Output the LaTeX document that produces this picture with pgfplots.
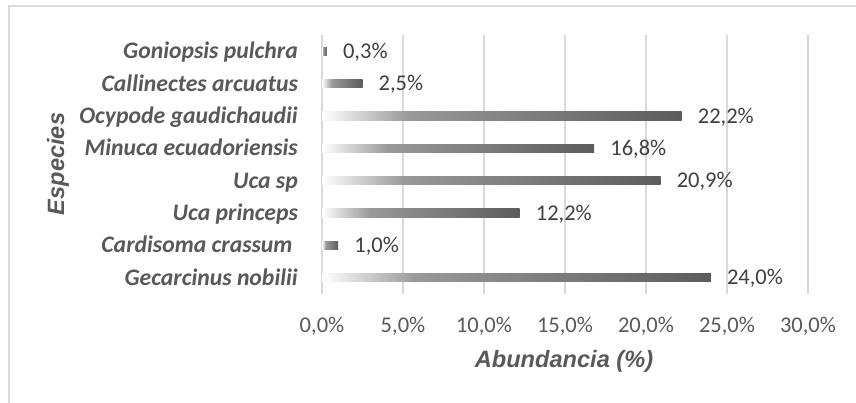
\documentclass[border=0pt]{standalone}
\usepackage{pgfplots}
\pgfplotsset{compat=1.18}
\usepackage{fontspec}
\setmainfont{Carlito}
\newfontfamily\arialfont{Liberation Sans}
\definecolor{txt}{HTML}{595959}
\definecolor{lbl}{HTML}{404040}
\definecolor{grd}{HTML}{D9D9D9}
\pgfdeclarehorizontalshading{barshade}{100bp}{color(0bp)=(white); color(25bp)=(white); color(37bp)=(black!40); color(75bp)=(black!64); color(100bp)=(black!64)}
\pgfplotsset{gbar/.style={xbar, bar width=8.3pt, draw=none, shade, shading=barshade,
  point meta=x,
  nodes near coords={\pgfmathprintnumber[fixed,fixed zerofill,precision=1,use comma,assume math mode=true]{\pgfplotspointmeta}\%},
  nodes near coords style={anchor=base west, inner sep=0pt, xshift=16pt, yshift=-7.1pt, font=\fontsize{22.5}{27}\selectfont, text=lbl}}}
\begin{document}
\begin{tikzpicture}[x=1pt,y=1pt]
\useasboundingbox (0,0) rectangle (856,403);
\fill[white] (0,0) rectangle (856,403);
\draw[grd, line width=1.6pt] (9,0) -- (9,397) -- (856,397);
\begin{axis}[
  at={(322pt,109pt)}, anchor=south west,
  scale only axis, width=486pt, height=259pt,
  xmin=0, xmax=30, ymin=-0.5, ymax=7.5,
  axis line style={draw=none},
  major tick length=0pt,
  xtick={0,5,10,15,20,25,30},
  xticklabels={{0,0\%},{5,0\%},{10,0\%},{15,0\%},{20,0\%},{25,0\%},{30,0\%}},
  xticklabel style={anchor=base, yshift=-39pt, font=\fontsize{22.5}{27}\selectfont, text=txt},
  ytick={0,...,7},
  yticklabels={Gecarcinus nobilii, {Cardisoma crassum\hspace*{5.3pt}}, Uca princeps, Uca sp, Minuca ecuadoriensis, Ocypode gaudichaudii, Callinectes arcuatus, Goniopsis pulchra},
  yticklabel style={anchor=base east, inner sep=0pt, xshift=-24pt, yshift=-7.5pt, font=\fontsize{23.7}{28}\bfseries\itshape\selectfont, text=txt},
  xmajorgrids, grid style={grd, line width=1.6pt},
  clip=false,
]
\addplot[gbar] coordinates {(24.0,0)};
\addplot[gbar] coordinates {(1.0,1)};
\addplot[gbar] coordinates {(12.2,2)};
\addplot[gbar] coordinates {(20.9,3)};
\addplot[gbar] coordinates {(16.8,4)};
\addplot[gbar] coordinates {(22.2,5)};
\addplot[gbar] coordinates {(2.5,6)};
\addplot[gbar] coordinates {(0.3,7)};
\end{axis}
\node[rotate=90, anchor=base, text=txt, font=\arialfont\fontsize{23.6}{28}\bfseries\itshape\selectfont] at (64,239) {Especies};
\node[anchor=base, text=txt, font=\arialfont\fontsize{23.6}{28}\bfseries\itshape\selectfont] at (564,35) {Abundancia (\%)};
\end{tikzpicture}
\end{document}
